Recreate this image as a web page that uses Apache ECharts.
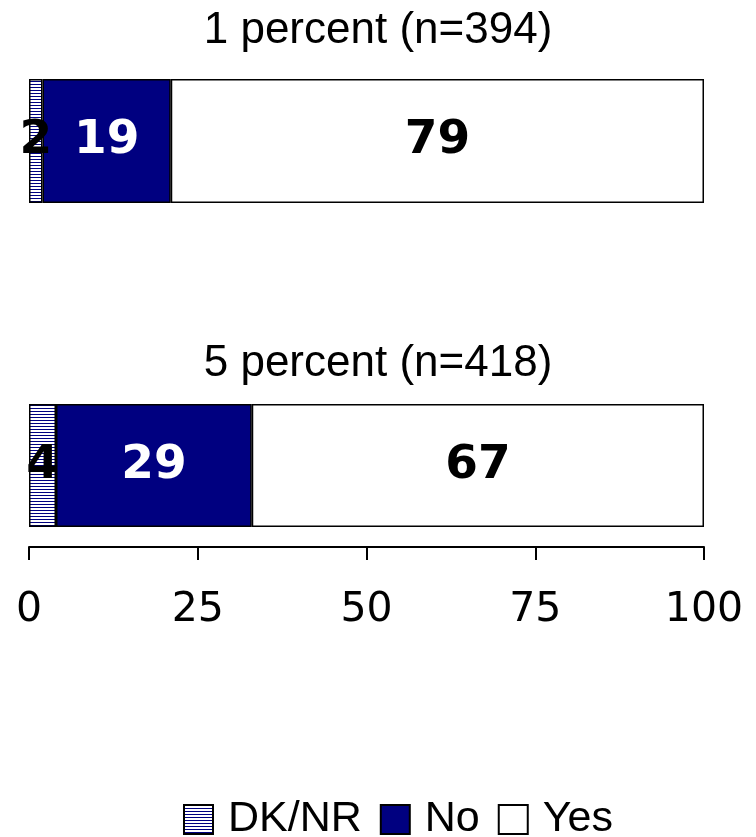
<!DOCTYPE html>
<html>
<head>
<meta charset="utf-8">
<script src="https://cdn.jsdelivr.net/npm/echarts@6/dist/echarts.min.js"></script>
<style>
html,body{margin:0;padding:0;background:#fff;}
#chart{width:756px;height:837px;}
</style>
</head>
<body>
<div id="chart"></div>
<script>
var categories = ['1 percent (n=394)', '5 percent (n=418)'];
var dknr = [2, 4];
var no = [19, 29];
var yes = [79, 67];
var seriesNames = ['DK/NR', 'No', 'Yes'];
var xTicks = [0, 25, 50, 75, 100];

// hatch pattern for DK/NR
var pc = document.createElement('canvas');
pc.width = 4; pc.height = 3;
var ctx = pc.getContext('2d');
ctx.fillStyle = '#ffffff'; ctx.fillRect(0, 0, 4, 3);
ctx.fillStyle = '#000080'; ctx.fillRect(0, 0, 4, 1);
var hatch = { image: pc, repeat: 'repeat' };

var colors = [hatch, '#000080', '#ffffff'];
var labelColors = ['#000', '#fff', '#000'];
var values = [dknr, no, yes];

var grids = [
  { left: 29, width: 675, top: 79, height: 124 },
  { left: 29, width: 675, top: 404, height: 123 }
];

var xAxes = grids.map(function (g, i) {
  return {
    gridIndex: i, type: 'value', min: 0, max: 100, interval: 25,
    show: i === 1, offset: 20,
    axisLine: { show: true, lineStyle: { color: '#000', width: 2 } },
    axisTick: { show: true, length: 13, lineStyle: { color: '#000', width: 2 } },
    splitLine: { show: false },
    axisLabel: {
      margin: 43, color: '#000', fontSize: 41, fontFamily: 'DejaVu Sans',
      formatter: function (v) { return xTicks.indexOf(v) >= 0 ? String(v) : ''; }
    }
  };
});
var yAxes = grids.map(function (g, i) {
  return { gridIndex: i, type: 'category', data: [categories[i]], show: false };
});

var series = [];
for (var g = 0; g < 2; g++) {
  for (var s = 0; s < 3; s++) {
    series.push({
      name: seriesNames[s], type: 'bar', stack: 'st' + g,
      xAxisIndex: g, yAxisIndex: g, barWidth: '100%',
      data: [values[s][g]],
      itemStyle: { color: colors[s], borderColor: '#000', borderWidth: 1.5 },
      label: {
        show: true, position: 'inside', color: labelColors[s],
        fontSize: 47, fontWeight: 'bold', fontFamily: 'DejaVu Sans'
      },
      emphasis: { disabled: true },
      animation: false
    });
  }
}

var chart = echarts.init(document.getElementById('chart'));
chart.setOption({
  backgroundColor: '#fff',
  animation: false,
  title: [
    { text: categories[0], left: 'center', top: 4,
      textStyle: { fontSize: 44, fontWeight: 'normal', color: '#000', fontFamily: 'Liberation Sans' } },
    { text: categories[1], left: 'center', top: 337,
      textStyle: { fontSize: 44, fontWeight: 'normal', color: '#000', fontFamily: 'Liberation Sans' } }
  ],
  legend: {
    data: seriesNames, top: 793, left: 178, itemWidth: 29, itemHeight: 29, itemGap: 18,
    icon: 'rect', selectedMode: false,
    textStyle: { fontSize: 43, color: '#000', fontFamily: 'Liberation Sans', padding: [0, 0, 0, 10] }
  },
  grid: grids,
  xAxis: xAxes,
  yAxis: yAxes,
  series: series
});
</script>
</body>
</html>
